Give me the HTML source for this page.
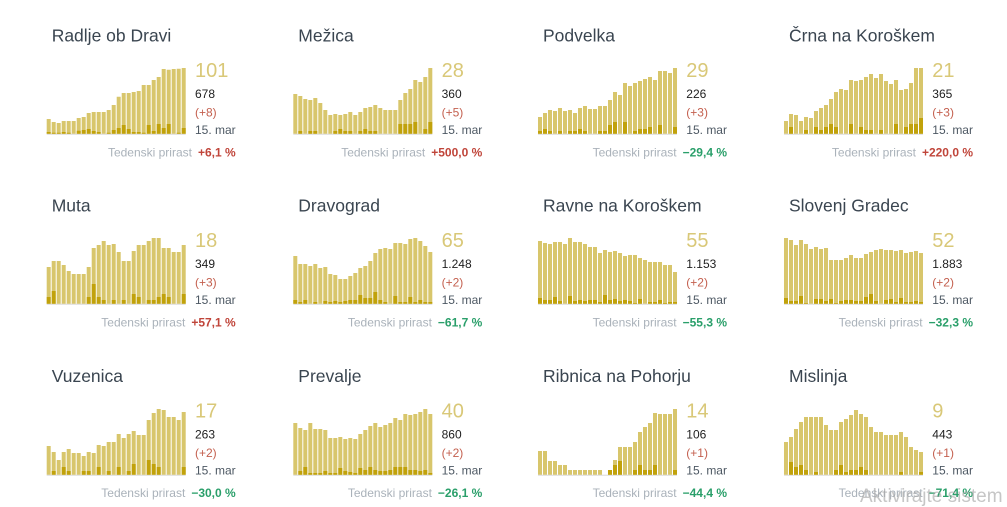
<!DOCTYPE html>
<html><head><meta charset="utf-8"><style>
html,body{margin:0;padding:0;background:#fff;}
svg{display:block;font-family:"Liberation Sans",Arial,sans-serif;}
.l{fill:#d8c66c}.d{fill:#c1a20b}.b{fill:#d9d9d9}
.t{font-size:17.5px;fill:#3a4550}
.n{font-size:20px;fill:#d9c878}
.s{font-size:12px;fill:#1e1e1e}
.p{font-size:12px;fill:#c4604f}
.m{font-size:12px;fill:#4d5863}
.w{font-size:12px}
.g{fill:#aab2ba}
.r{fill:#c0453a;font-weight:bold}
.gr{fill:#2a9f6a;font-weight:bold}
</style></head><body>
<svg width="1007" height="507" viewBox="0 0 1007 507" xmlns="http://www.w3.org/2000/svg">

<!-- Row 1 -->
<g transform="translate(46.7,133.7)">
<rect class="b" x="0" y="0" width="139" height="1"/>
<path class="l" d="M0 0v-14.7h4V0zM5 0v-11.7h4V0zM10 0v-10.7h4V0zM15 0v-12.7h4V0zM20 0v-12.7h4V0zM25 0v-12.7h4V0zM30 0v-15.7h4V0zM35 0v-16.7h4V0zM40 0v-20.7h4V0zM45 0v-21.7h4V0zM50 0v-21.7h4V0zM55 0v-21.7h4V0zM60 0v-23.7h4V0zM65 0v-28.7h4V0zM70 0v-37h4V0zM75 0v-40.7h4V0zM80 0v-40.7h4V0zM85 0v-41.7h4V0zM90 0v-42.7h4V0zM95 0v-48.7h4V0zM100 0v-48.7h4V0zM105 0v-53.7h4V0zM110 0v-56.7h4V0zM115 0v-64.7h4V0zM120 0v-64h4V0zM125 0v-64.7h4V0zM130 0v-65h4V0zM135 0v-65.7h4V0z"/>
<path class="d" d="M0 0v-1.7h4V0zM5 0v-1h4V0zM10 0v-1h4V0zM15 0v-1.7h4V0zM20 0v-1h4V0zM30 0v-3h4V0zM35 0v-3.7h4V0zM40 0v-4.7h4V0zM45 0v-2.7h4V0zM50 0v-1.7h4V0zM60 0v-1h4V0zM65 0v-3.7h4V0zM70 0v-5.7h4V0zM75 0v-8.7h4V0zM80 0v-4.7h4V0zM85 0v-1.7h4V0zM90 0v-1.7h4V0zM95 0v-1h4V0zM100 0v-8.7h4V0zM105 0v-2.7h4V0zM110 0v-9.7h4V0zM115 0v-5.7h4V0zM120 0v-9.7h4V0zM130 0v-1h4V0zM135 0v-5.7h4V0z"/>
</g>
<text class="t" x="51.7" y="41.5">Radlje ob Dravi</text>
<text class="n" x="195" y="77">101</text>
<text class="s" x="195" y="97.8">678</text>
<text class="p" x="195" y="116.5">(+8)</text>
<text class="m" x="195" y="134">15. mar</text>
<text class="w" x="235.7" y="156.5" text-anchor="end"><tspan class="g">Tedenski prirast</tspan><tspan class="r" dx="6">+6,1 %</tspan></text>

<g transform="translate(293.3,133.7)">
<rect class="b" x="0" y="0" width="139" height="1"/>
<path class="l" d="M0 0v-39.7h4V0zM5 0v-37.7h4V0zM10 0v-34.7h4V0zM15 0v-33.7h4V0zM20 0v-35.7h4V0zM25 0v-30.7h4V0zM30 0v-23.7h4V0zM35 0v-18.7h4V0zM40 0v-19.7h4V0zM45 0v-18.7h4V0zM50 0v-19.7h4V0zM55 0v-21.7h4V0zM60 0v-18.7h4V0zM65 0v-21.7h4V0zM70 0v-25.7h4V0zM75 0v-26.7h4V0zM80 0v-28.7h4V0zM85 0v-25.7h4V0zM90 0v-23.7h4V0zM95 0v-23.7h4V0zM100 0v-23.7h4V0zM105 0v-33.7h4V0zM110 0v-40.7h4V0zM115 0v-44.7h4V0zM120 0v-53.7h4V0zM125 0v-51.7h4V0zM130 0v-56.7h4V0zM135 0v-65.7h4V0z"/>
<path class="d" d="M5 0v-2.7h4V0zM15 0v-2.7h4V0zM20 0v-2.7h4V0zM40 0v-2.7h4V0zM45 0v-4.7h4V0zM50 0v-2.7h4V0zM55 0v-2.7h4V0zM65 0v-2.7h4V0zM70 0v-4.7h4V0zM75 0v-2.7h4V0zM80 0v-2.7h4V0zM105 0v-9.7h4V0zM110 0v-9.7h4V0zM115 0v-9.7h4V0zM120 0v-11.7h4V0zM130 0v-4.7h4V0zM135 0v-11.7h4V0z"/>
</g>
<text class="t" x="298.3" y="41.5">Mežica</text>
<text class="n" x="441.6" y="77">28</text>
<text class="s" x="441.6" y="97.8">360</text>
<text class="p" x="441.6" y="116.5">(+5)</text>
<text class="m" x="441.6" y="134">15. mar</text>
<text class="w" x="482.3" y="156.5" text-anchor="end"><tspan class="g">Tedenski prirast</tspan><tspan class="r" dx="6">+500,0 %</tspan></text>

<g transform="translate(538,133.7)">
<rect class="b" x="0" y="0" width="139" height="1"/>
<path class="l" d="M0 0v-16.7h4V0zM5 0v-20.7h4V0zM10 0v-23.7h4V0zM15 0v-22.7h4V0zM20 0v-25.7h4V0zM25 0v-22.7h4V0zM30 0v-23.7h4V0zM35 0v-20.7h4V0zM40 0v-25.7h4V0zM45 0v-27.7h4V0zM50 0v-24.7h4V0zM55 0v-24.7h4V0zM60 0v-27.7h4V0zM65 0v-27.7h4V0zM70 0v-33.7h4V0zM75 0v-41.7h4V0zM80 0v-38.7h4V0zM85 0v-50.7h4V0zM90 0v-47.7h4V0zM95 0v-50.7h4V0zM100 0v-52.7h4V0zM105 0v-54.7h4V0zM110 0v-56.7h4V0zM115 0v-53.7h4V0zM120 0v-62.7h4V0zM125 0v-62.7h4V0zM130 0v-60.7h4V0zM135 0v-65.7h4V0z"/>
<path class="d" d="M0 0v-2.7h4V0zM5 0v-4.7h4V0zM10 0v-2.7h4V0zM20 0v-2.7h4V0zM30 0v-2.7h4V0zM35 0v-2.7h4V0zM40 0v-4.7h4V0zM45 0v-2.7h4V0zM60 0v-2.7h4V0zM65 0v-2.7h4V0zM70 0v-8.7h4V0zM75 0v-11.7h4V0zM85 0v-11.7h4V0zM95 0v-2.7h4V0zM100 0v-4.7h4V0zM105 0v-4.7h4V0zM110 0v-6.7h4V0zM120 0v-8.7h4V0zM135 0v-6.7h4V0z"/>
</g>
<text class="t" x="543" y="41.5">Podvelka</text>
<text class="n" x="686.3" y="77">29</text>
<text class="s" x="686.3" y="97.8">226</text>
<text class="p" x="686.3" y="116.5">(+3)</text>
<text class="m" x="686.3" y="134">15. mar</text>
<text class="w" x="727" y="156.5" text-anchor="end"><tspan class="g">Tedenski prirast</tspan><tspan class="gr" dx="6">−29,4 %</tspan></text>

<g transform="translate(784,133.7)">
<rect class="b" x="0" y="0" width="139" height="1"/>
<path class="l" d="M0 0v-12.7h4V0zM5 0v-19.7h4V0zM10 0v-18.7h4V0zM15 0v-12.7h4V0zM20 0v-16.7h4V0zM25 0v-15.7h4V0zM30 0v-22.7h4V0zM35 0v-25.7h4V0zM40 0v-28.7h4V0zM45 0v-34.7h4V0zM50 0v-41.7h4V0zM55 0v-44.7h4V0zM60 0v-43.7h4V0zM65 0v-53.7h4V0zM70 0v-52.7h4V0zM75 0v-53.7h4V0zM80 0v-56.7h4V0zM85 0v-59.7h4V0zM90 0v-55.7h4V0zM95 0v-59.7h4V0zM100 0v-52.7h4V0zM105 0v-49.7h4V0zM110 0v-53.7h4V0zM115 0v-43.7h4V0zM120 0v-44.7h4V0zM125 0v-50.7h4V0zM130 0v-65.7h4V0zM135 0v-65.7h4V0z"/>
<path class="d" d="M5 0v-6.7h4V0zM20 0v-3.7h4V0zM30 0v-6.7h4V0zM35 0v-3.7h4V0zM40 0v-6.7h4V0zM45 0v-9.7h4V0zM50 0v-6.7h4V0zM65 0v-9.7h4V0zM75 0v-6.7h4V0zM80 0v-3.7h4V0zM85 0v-3.7h4V0zM95 0v-3.7h4V0zM110 0v-9.7h4V0zM120 0v-6.7h4V0zM125 0v-9.7h4V0zM130 0v-9.7h4V0zM135 0v-15.7h4V0z"/>
</g>
<text class="t" x="789" y="41.5">Črna na Koroškem</text>
<text class="n" x="932.3" y="77">21</text>
<text class="s" x="932.3" y="97.8">365</text>
<text class="p" x="932.3" y="116.5">(+3)</text>
<text class="m" x="932.3" y="134">15. mar</text>
<text class="w" x="973" y="156.5" text-anchor="end"><tspan class="g">Tedenski prirast</tspan><tspan class="r" dx="6">+220,0 %</tspan></text>

<!-- Row 2 -->
<g transform="translate(46.7,303.7)">
<rect class="b" x="0" y="0" width="139" height="1"/>
<path class="l" d="M0 0v-36.7h4V0zM5 0v-42.7h4V0zM10 0v-42.7h4V0zM15 0v-38.7h4V0zM20 0v-32.7h4V0zM25 0v-29.7h4V0zM30 0v-29.7h4V0zM35 0v-29.7h4V0zM40 0v-36.7h4V0zM45 0v-55.7h4V0zM50 0v-58.7h4V0zM55 0v-62.7h4V0zM60 0v-58.7h4V0zM65 0v-59.7h4V0zM70 0v-51.7h4V0zM75 0v-42.7h4V0zM80 0v-42.7h4V0zM85 0v-52.7h4V0zM90 0v-58.7h4V0zM95 0v-58.7h4V0zM100 0v-62.7h4V0zM105 0v-65.7h4V0zM110 0v-65.7h4V0zM115 0v-55.7h4V0zM120 0v-55.7h4V0zM125 0v-51.7h4V0zM130 0v-51.7h4V0zM135 0v-58.7h4V0z"/>
<path class="d" d="M0 0v-6.7h4V0zM5 0v-12.7h4V0zM40 0v-6.7h4V0zM45 0v-19.7h4V0zM50 0v-6.7h4V0zM55 0v-3.7h4V0zM65 0v-3.7h4V0zM75 0v-3.7h4V0zM85 0v-9.7h4V0zM90 0v-6.7h4V0zM100 0v-3.7h4V0zM105 0v-3.7h4V0zM110 0v-6.7h4V0zM115 0v-9.7h4V0zM120 0v-6.7h4V0zM135 0v-9.7h4V0z"/>
</g>
<text class="t" x="51.7" y="211.5">Muta</text>
<text class="n" x="195" y="247">18</text>
<text class="s" x="195" y="267.8">349</text>
<text class="p" x="195" y="286.5">(+3)</text>
<text class="m" x="195" y="304">15. mar</text>
<text class="w" x="235.7" y="326.5" text-anchor="end"><tspan class="g">Tedenski prirast</tspan><tspan class="r" dx="6">+57,1 %</tspan></text>

<g transform="translate(293.3,303.7)">
<rect class="b" x="0" y="0" width="139" height="1"/>
<path class="l" d="M0 0v-47.7h4V0zM5 0v-39.7h4V0zM10 0v-39.7h4V0zM15 0v-37.7h4V0zM20 0v-39.7h4V0zM25 0v-35.7h4V0zM30 0v-36.7h4V0zM35 0v-29.7h4V0zM40 0v-28.7h4V0zM45 0v-24.7h4V0zM50 0v-24.7h4V0zM55 0v-27.7h4V0zM60 0v-30.7h4V0zM65 0v-35.7h4V0zM70 0v-37.7h4V0zM75 0v-42.7h4V0zM80 0v-50.7h4V0zM85 0v-54.7h4V0zM90 0v-55.7h4V0zM95 0v-54.7h4V0zM100 0v-60.7h4V0zM105 0v-60.7h4V0zM110 0v-59.7h4V0zM115 0v-64.7h4V0zM120 0v-65.7h4V0zM125 0v-62.7h4V0zM130 0v-57.7h4V0zM135 0v-51.7h4V0z"/>
<path class="d" d="M0 0v-3.7h4V0zM5 0v-1.7h4V0zM10 0v-3.7h4V0zM20 0v-1.7h4V0zM30 0v-2.7h4V0zM35 0v-1.7h4V0zM40 0v-2.7h4V0zM45 0v-1.7h4V0zM50 0v-2.7h4V0zM55 0v-3.7h4V0zM60 0v-3.7h4V0zM65 0v-8.7h4V0zM70 0v-5.7h4V0zM75 0v-5.7h4V0zM80 0v-11.7h4V0zM85 0v-3.7h4V0zM90 0v-1.7h4V0zM100 0v-7.7h4V0zM105 0v-1.7h4V0zM110 0v-1.7h4V0zM115 0v-6.7h4V0zM120 0v-1.7h4V0zM125 0v-3.7h4V0zM130 0v-1.7h4V0zM135 0v-1.7h4V0z"/>
</g>
<text class="t" x="298.3" y="211.5">Dravograd</text>
<text class="n" x="441.6" y="247">65</text>
<text class="s" x="441.6" y="267.8">1.248</text>
<text class="p" x="441.6" y="286.5">(+2)</text>
<text class="m" x="441.6" y="304">15. mar</text>
<text class="w" x="482.3" y="326.5" text-anchor="end"><tspan class="g">Tedenski prirast</tspan><tspan class="gr" dx="6">−61,7 %</tspan></text>

<g transform="translate(538,303.7)">
<rect class="b" x="0" y="0" width="139" height="1"/>
<path class="l" d="M0 0v-62.7h4V0zM5 0v-60.7h4V0zM10 0v-59.7h4V0zM15 0v-61.7h4V0zM20 0v-61.7h4V0zM25 0v-59.7h4V0zM30 0v-65.7h4V0zM35 0v-61.7h4V0zM40 0v-61.7h4V0zM45 0v-59.7h4V0zM50 0v-56.7h4V0zM55 0v-56.7h4V0zM60 0v-50.7h4V0zM65 0v-53.7h4V0zM70 0v-51.7h4V0zM75 0v-52.7h4V0zM80 0v-50.7h4V0zM85 0v-47.7h4V0zM90 0v-48.7h4V0zM95 0v-48.7h4V0zM100 0v-45.7h4V0zM105 0v-43.7h4V0zM110 0v-41.7h4V0zM115 0v-41.7h4V0zM120 0v-41.7h4V0zM125 0v-38.7h4V0zM130 0v-38.7h4V0zM135 0v-31.7h4V0z"/>
<path class="d" d="M0 0v-5.7h4V0zM5 0v-3.7h4V0zM10 0v-3.7h4V0zM15 0v-6.7h4V0zM20 0v-2.7h4V0zM30 0v-7.7h4V0zM35 0v-2.7h4V0zM40 0v-3.7h4V0zM45 0v-2.7h4V0zM50 0v-3.7h4V0zM55 0v-3.7h4V0zM60 0v-1.7h4V0zM65 0v-8.7h4V0zM70 0v-3.7h4V0zM75 0v-4.7h4V0zM80 0v-2.7h4V0zM85 0v-3.7h4V0zM90 0v-2.7h4V0zM95 0v-0.7h4V0zM100 0v-4.7h4V0zM110 0v-1.7h4V0zM115 0v-1.7h4V0zM120 0v-3.7h4V0zM125 0v-0.7h4V0zM130 0v-1.7h4V0zM135 0v-1.7h4V0z"/>
</g>
<text class="t" x="543" y="211.5">Ravne na Koroškem</text>
<text class="n" x="686.3" y="247">55</text>
<text class="s" x="686.3" y="267.8">1.153</text>
<text class="p" x="686.3" y="286.5">(+2)</text>
<text class="m" x="686.3" y="304">15. mar</text>
<text class="w" x="727" y="326.5" text-anchor="end"><tspan class="g">Tedenski prirast</tspan><tspan class="gr" dx="6">−55,3 %</tspan></text>

<g transform="translate(784,303.7)">
<rect class="b" x="0" y="0" width="139" height="1"/>
<path class="l" d="M0 0v-65.7h4V0zM5 0v-63.7h4V0zM10 0v-58.7h4V0zM15 0v-63.7h4V0zM20 0v-59.7h4V0zM25 0v-54.7h4V0zM30 0v-56.7h4V0zM35 0v-54.7h4V0zM40 0v-55.7h4V0zM45 0v-43.7h4V0zM50 0v-43.7h4V0zM55 0v-43.7h4V0zM60 0v-45.7h4V0zM65 0v-48.7h4V0zM70 0v-45.7h4V0zM75 0v-45.7h4V0zM80 0v-49.7h4V0zM85 0v-51.7h4V0zM90 0v-53.7h4V0zM95 0v-54.7h4V0zM100 0v-53.7h4V0zM105 0v-53.7h4V0zM110 0v-52.7h4V0zM115 0v-53.7h4V0zM120 0v-50.7h4V0zM125 0v-51.7h4V0zM130 0v-52.7h4V0zM135 0v-50.7h4V0z"/>
<path class="d" d="M0 0v-5.7h4V0zM5 0v-2.7h4V0zM10 0v-2.7h4V0zM15 0v-7.7h4V0zM20 0v-0.7h4V0zM30 0v-4.7h4V0zM35 0v-4.7h4V0zM40 0v-2.7h4V0zM45 0v-4.7h4V0zM50 0v-0.7h4V0zM55 0v-2.7h4V0zM60 0v-3.7h4V0zM65 0v-3.7h4V0zM70 0v-2.7h4V0zM75 0v-2.7h4V0zM80 0v-6.7h4V0zM85 0v-9.7h4V0zM90 0v-2.7h4V0zM100 0v-3.7h4V0zM105 0v-4.7h4V0zM110 0v-1.7h4V0zM115 0v-5.7h4V0zM120 0v-1.7h4V0zM125 0v-1.7h4V0zM130 0v-2.7h4V0zM135 0v-1.7h4V0z"/>
</g>
<text class="t" x="789" y="211.5">Slovenj Gradec</text>
<text class="n" x="932.3" y="247">52</text>
<text class="s" x="932.3" y="267.8">1.883</text>
<text class="p" x="932.3" y="286.5">(+2)</text>
<text class="m" x="932.3" y="304">15. mar</text>
<text class="w" x="973" y="326.5" text-anchor="end"><tspan class="g">Tedenski prirast</tspan><tspan class="gr" dx="6">−32,3 %</tspan></text>

<!-- Row 3 -->
<g transform="translate(46.7,474.7)">
<rect class="b" x="0" y="0" width="139" height="1"/>
<path class="l" d="M0 0v-28.7h4V0zM5 0v-22.7h4V0zM10 0v-14.7h4V0zM15 0v-22.7h4V0zM20 0v-25.7h4V0zM25 0v-21.7h4V0zM30 0v-21.7h4V0zM35 0v-18.7h4V0zM40 0v-22.7h4V0zM45 0v-21.7h4V0zM50 0v-29.7h4V0zM55 0v-28.7h4V0zM60 0v-32.7h4V0zM65 0v-32.7h4V0zM70 0v-40.7h4V0zM75 0v-36.7h4V0zM80 0v-40.7h4V0zM85 0v-43.7h4V0zM90 0v-39.7h4V0zM95 0v-39.7h4V0zM100 0v-54.7h4V0zM105 0v-61.7h4V0zM110 0v-65.7h4V0zM115 0v-64.7h4V0zM120 0v-57.7h4V0zM125 0v-57.7h4V0zM130 0v-54.7h4V0zM135 0v-62.7h4V0z"/>
<path class="d" d="M5 0v-3.7h4V0zM15 0v-7.7h4V0zM20 0v-3.7h4V0zM35 0v-3.7h4V0zM40 0v-3.7h4V0zM50 0v-7.7h4V0zM60 0v-3.7h4V0zM70 0v-7.7h4V0zM80 0v-3.7h4V0zM85 0v-10.7h4V0zM100 0v-14.7h4V0zM105 0v-10.7h4V0zM110 0v-7.7h4V0zM135 0v-7.7h4V0z"/>
</g>
<text class="t" x="51.7" y="382">Vuzenica</text>
<text class="n" x="195" y="417.5">17</text>
<text class="s" x="195" y="438.3">263</text>
<text class="p" x="195" y="457">(+2)</text>
<text class="m" x="195" y="474.5">15. mar</text>
<text class="w" x="235.7" y="497" text-anchor="end"><tspan class="g">Tedenski prirast</tspan><tspan class="gr" dx="6">−30,0 %</tspan></text>

<g transform="translate(293.3,474.7)">
<rect class="b" x="0" y="0" width="139" height="1"/>
<path class="l" d="M0 0v-51.7h4V0zM5 0v-46.7h4V0zM10 0v-44.7h4V0zM15 0v-51.7h4V0zM20 0v-45.7h4V0zM25 0v-45.7h4V0zM30 0v-44.7h4V0zM35 0v-36.7h4V0zM40 0v-36.7h4V0zM45 0v-37.7h4V0zM50 0v-35.7h4V0zM55 0v-36.7h4V0zM60 0v-35.7h4V0zM65 0v-40.7h4V0zM70 0v-44.7h4V0zM75 0v-48.7h4V0zM80 0v-51.7h4V0zM85 0v-47.7h4V0zM90 0v-49.7h4V0zM95 0v-51.7h4V0zM100 0v-56.7h4V0zM105 0v-54.7h4V0zM110 0v-60.7h4V0zM115 0v-59.7h4V0zM120 0v-60.7h4V0zM125 0v-62.7h4V0zM130 0v-65.7h4V0zM135 0v-60.7h4V0z"/>
<path class="d" d="M5 0v-3.7h4V0zM10 0v-7.7h4V0zM15 0v-1.7h4V0zM20 0v-1.7h4V0zM25 0v-1.7h4V0zM30 0v-3.7h4V0zM35 0v-1.7h4V0zM40 0v-1.7h4V0zM45 0v-6.7h4V0zM50 0v-3.7h4V0zM55 0v-2.7h4V0zM60 0v-1.7h4V0zM65 0v-6.7h4V0zM70 0v-4.7h4V0zM75 0v-7.7h4V0zM80 0v-4.7h4V0zM85 0v-3.7h4V0zM90 0v-3.7h4V0zM95 0v-4.7h4V0zM100 0v-7.7h4V0zM105 0v-7.7h4V0zM110 0v-7.7h4V0zM115 0v-4.7h4V0zM120 0v-4.7h4V0zM125 0v-3.7h4V0zM130 0v-4.7h4V0zM135 0v-1.7h4V0z"/>
</g>
<text class="t" x="298.3" y="382">Prevalje</text>
<text class="n" x="441.6" y="417.5">40</text>
<text class="s" x="441.6" y="438.3">860</text>
<text class="p" x="441.6" y="457">(+2)</text>
<text class="m" x="441.6" y="474.5">15. mar</text>
<text class="w" x="482.3" y="497" text-anchor="end"><tspan class="g">Tedenski prirast</tspan><tspan class="gr" dx="6">−26,1 %</tspan></text>

<g transform="translate(538,474.7)">
<rect class="b" x="0" y="0" width="139" height="1"/>
<path class="l" d="M0 0v-23.7h4V0zM5 0v-23.7h4V0zM10 0v-13.7h4V0zM15 0v-13.7h4V0zM20 0v-9.7h4V0zM25 0v-9.7h4V0zM30 0v-4.7h4V0zM35 0v-4.7h4V0zM40 0v-4.7h4V0zM45 0v-4.7h4V0zM50 0v-4.7h4V0zM55 0v-4.7h4V0zM60 0v-4.7h4V0zM70 0v-4.7h4V0zM75 0v-14.7h4V0zM80 0v-27.7h4V0zM85 0v-27.7h4V0zM90 0v-27.7h4V0zM95 0v-32.7h4V0zM100 0v-42.7h4V0zM105 0v-47.7h4V0zM110 0v-51.7h4V0zM115 0v-61.7h4V0zM120 0v-60.7h4V0zM125 0v-60.7h4V0zM130 0v-60.7h4V0zM135 0v-65.7h4V0z"/>
<path class="d" d="M70 0v-4.7h4V0zM75 0v-9.7h4V0zM80 0v-13.7h4V0zM95 0v-4.7h4V0zM100 0v-9.7h4V0zM105 0v-4.7h4V0zM110 0v-4.7h4V0zM115 0v-9.7h4V0zM135 0v-4.7h4V0z"/>
</g>
<text class="t" x="543" y="382">Ribnica na Pohorju</text>
<text class="n" x="686.3" y="417.5">14</text>
<text class="s" x="686.3" y="438.3">106</text>
<text class="p" x="686.3" y="457">(+1)</text>
<text class="m" x="686.3" y="474.5">15. mar</text>
<text class="w" x="727" y="497" text-anchor="end"><tspan class="g">Tedenski prirast</tspan><tspan class="gr" dx="6">−44,4 %</tspan></text>

<g transform="translate(784,474.7)">
<rect class="b" x="0" y="0" width="139" height="1"/>
<path class="l" d="M0 0v-32.7h4V0zM5 0v-37.7h4V0zM10 0v-45.7h4V0zM15 0v-52.7h4V0zM20 0v-57.7h4V0zM25 0v-57.7h4V0zM30 0v-57.7h4V0zM35 0v-57.7h4V0zM40 0v-49.7h4V0zM45 0v-44.7h4V0zM50 0v-44.7h4V0zM55 0v-52.7h4V0zM60 0v-55.7h4V0zM65 0v-59.7h4V0zM70 0v-64.7h4V0zM75 0v-60.7h4V0zM80 0v-57.7h4V0zM85 0v-47.7h4V0zM90 0v-42.7h4V0zM95 0v-42.7h4V0zM100 0v-39.7h4V0zM105 0v-39.7h4V0zM110 0v-39.7h4V0zM115 0v-42.7h4V0zM120 0v-37.7h4V0zM125 0v-27.7h4V0zM130 0v-24.7h4V0zM135 0v-22.7h4V0z"/>
<path class="d" d="M5 0v-12.7h4V0zM10 0v-7.7h4V0zM15 0v-9.7h4V0zM20 0v-4.7h4V0zM30 0v-2.7h4V0zM50 0v-4.7h4V0zM55 0v-9.7h4V0zM60 0v-2.7h4V0zM65 0v-4.7h4V0zM70 0v-4.7h4V0zM75 0v-7.7h4V0zM80 0v-4.7h4V0zM115 0v-2.7h4V0zM135 0v-2.7h4V0z"/>
</g>
<text class="t" x="789" y="382">Mislinja</text>
<text class="n" x="932.3" y="417.5">9</text>
<text class="s" x="932.3" y="438.3">443</text>
<text class="p" x="932.3" y="457">(+1)</text>
<text class="m" x="932.3" y="474.5">15. mar</text>
<text class="w" x="973" y="497" text-anchor="end"><tspan class="g">Tedenski prirast</tspan><tspan class="gr" dx="6">−71,4 %</tspan></text>

<text x="860" y="502" font-size="19" fill="#a8a8a8" fill-opacity="0.65">Aktivirajte sistem</text>
</svg>
</body></html>
